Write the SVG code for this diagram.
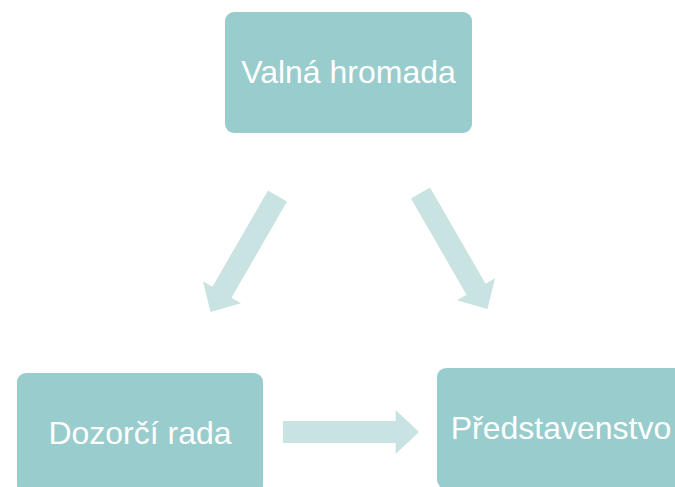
<svg xmlns="http://www.w3.org/2000/svg" width="675" height="487" viewBox="0 0 675 487">
<style>
.box{fill:#99CCCC;}
.lbl{fill:#FFFFFF;font-family:"Liberation Sans",Arial,sans-serif;font-size:32px;text-anchor:middle;}
.arr{fill:#C8E3E2;}
</style>
<defs>
<path id="blk" d="M0,-11 L111,-11 L111,-22 L134,0 L111,22 L111,11 L0,11 Z"/>
</defs>
<rect width="675" height="487" fill="#FFFFFF"/>
<g id="connectors">
<use href="#blk" class="arr" transform="translate(277.5,196) rotate(120)"/>
<use href="#blk" class="arr" transform="translate(420.5,193) rotate(60)"/>
<use href="#blk" class="arr" transform="translate(283,432) scale(1.015,1)"/>
</g>
<g id="valna-hromada">
<rect class="box" x="225" y="12" width="247" height="121" rx="9"/>
<text class="lbl" x="348.5" y="83">Valná hromada</text>
</g>
<g id="dozorci-rada">
<rect class="box" x="17" y="373" width="246" height="121" rx="9"/>
<text class="lbl" x="140" y="444">Dozorčí rada</text>
</g>
<g id="predstavenstvo">
<rect class="box" x="437" y="368" width="247" height="121" rx="9"/>
<text class="lbl" x="561" y="439">Představenstvo</text>
</g>
</svg>
